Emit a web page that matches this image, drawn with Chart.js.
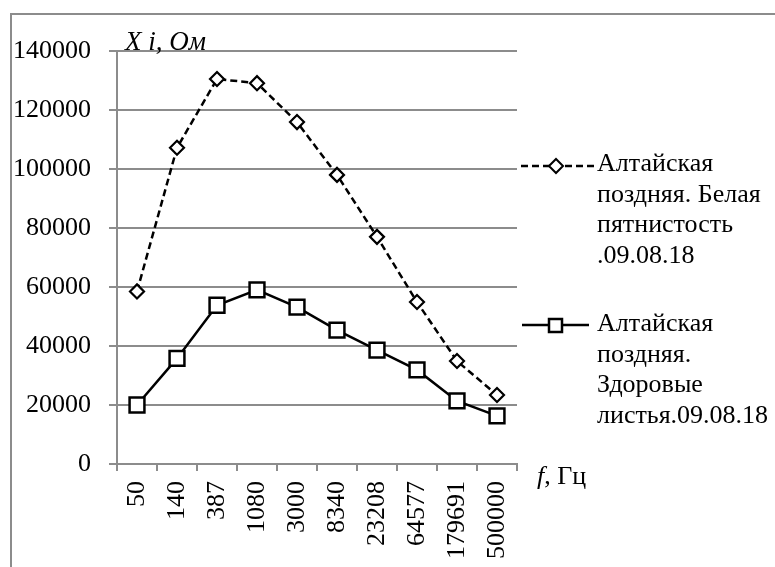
<!DOCTYPE html>
<html>
<head>
<meta charset="utf-8">
<script src="https://cdn.jsdelivr.net/npm/chart.js@4"></script>
<style>
  html, body { margin: 0; padding: 0; background: #fff; overflow: hidden; }
  #wrap { position: relative; width: 775px; height: 567px; overflow: hidden; }
  #frame { position: absolute; left: 10px; top: 13px; width: 800px; height: 600px; border: 2px solid #8c8c8c; box-sizing: border-box; }
  canvas { position: absolute; left: 0; top: 0; }
  .txt { position: absolute; font-family: "Liberation Serif", "Times New Roman", serif; font-size: 26px; line-height: 30.5px; color: #000; white-space: nowrap; }
</style>
</head>
<body>
<div id="wrap">
  <div id="frame"></div>
  <canvas id="myChart" width="775" height="567"></canvas>
  <div class="txt" style="left:125px; top:26px; line-height:30px; font-size:27px;"><i>X i, Ом</i></div>
  <div class="txt" style="left:537px; top:461px; line-height:30px;"><i>f</i>, Гц</div>
  <div class="txt" style="left:597px; top:148px;">Алтайская<br>поздняя. Белая<br>пятнистость<br>.09.08.18</div>
  <div class="txt" style="left:597px; top:308px;">Алтайская<br>поздняя.<br>Здоровые<br>листья.09.08.18</div>
</div>
<script>
const freqLabels = ['50', '140', '387', '1080', '3000', '8340', '23208', '64577', '179691', '500000'];
const spottedValues = [58500, 107200, 130500, 129100, 115900, 98000, 77000, 54900, 34900, 23400];
const healthyValues = [20000, 35800, 53800, 59000, 53200, 45400, 38600, 31900, 21400, 16300];
const yTicks = [0, 20000, 40000, 60000, 80000, 100000, 120000, 140000];

const serif = '"Liberation Serif", "Times New Roman", serif';
const gridGray = '#8c8c8c';

// legend markers next to the html legend text
const legendMarks = {
  id: 'legendMarks',
  afterDraw(chart) {
    const ctx = chart.ctx;
    ctx.save();
    ctx.strokeStyle = '#000';
    ctx.fillStyle = '#fff';

    // dashed line + diamond
    ctx.lineWidth = 2.5;
    ctx.setLineDash([7, 4]);
    ctx.beginPath();
    ctx.moveTo(521, 166);
    ctx.lineTo(596, 166);
    ctx.stroke();
    ctx.setLineDash([]);
    ctx.lineWidth = 2;
    ctx.beginPath();
    ctx.moveTo(556 - 7, 166);
    ctx.lineTo(556, 159);
    ctx.lineTo(556 + 7, 166);
    ctx.lineTo(556, 173);
    ctx.closePath();
    ctx.fill();
    ctx.stroke();

    // solid line + square
    ctx.lineWidth = 2.5;
    ctx.beginPath();
    ctx.moveTo(522, 325);
    ctx.lineTo(589, 325);
    ctx.stroke();
    ctx.beginPath();
    ctx.rect(549, 319, 13, 13);
    ctx.fill();
    ctx.stroke();
    ctx.restore();
  }
};

const ctx = document.getElementById('myChart');

new Chart(ctx, {
  type: 'line',
  data: {
    labels: freqLabels,
    datasets: [
      {
        label: 'Алтайская поздняя. Здоровые листья.09.08.18',
        data: healthyValues,
        borderColor: '#000',
        borderWidth: 2.5,
        pointStyle: 'rect',
        pointRadius: 10.5,
        pointBorderWidth: 2.5,
        pointBackgroundColor: '#fff',
        pointBorderColor: '#000',
        tension: 0
      },
      {
        label: 'Алтайская поздняя. Белая пятнистость .09.08.18',
        data: spottedValues,
        borderColor: '#000',
        borderWidth: 2.5,
        borderDash: [7, 4],
        pointStyle: 'rectRot',
        pointRadius: 7,
        pointBorderWidth: 2.2,
        pointBackgroundColor: '#fff',
        pointBorderColor: '#000',
        tension: 0
      }
    ]
  },
  plugins: [legendMarks],
  options: {
    responsive: false,
    animation: false,
    events: [],
    layout: { padding: { left: 0, top: 51, right: 258, bottom: 0 } },
    plugins: {
      legend: { display: false },
      tooltip: { enabled: false }
    },
    scales: {
      x: {
        offset: true,
        afterFit: (s) => { s.height = 103; },
        grid: {
          offset: true,
          drawOnChartArea: false,
          drawTicks: true,
          tickLength: 7,
          color: gridGray,
          lineWidth: 2
        },
        border: { color: gridGray, width: 2 },
        ticks: {
          autoSkip: false,
          minRotation: 90,
          maxRotation: 90,
          padding: 10,
          color: '#000',
          font: { family: serif, size: 26 }
        }
      },
      y: {
        min: 0,
        max: 140000,
        afterFit: (s) => { s.width = 117; },
        afterBuildTicks: (s) => { s.ticks = yTicks.map(v => ({ value: v })); },
        grid: {
          color: gridGray,
          lineWidth: 2,
          tickLength: 8
        },
        border: { color: gridGray, width: 2 },
        ticks: {
          padding: 18,
          color: '#000',
          font: { family: serif, size: 26 },
          callback: (v) => String(v)
        }
      }
    }
  }
});
</script>
</body>
</html>
